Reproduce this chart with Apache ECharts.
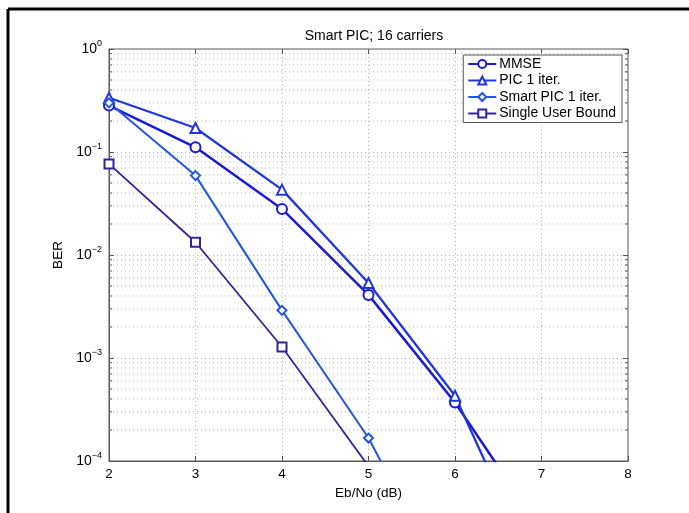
<!DOCTYPE html>
<html>
<head>
<meta charset="utf-8">
<script src="https://cdn.jsdelivr.net/npm/echarts@6/dist/echarts.min.js"></script>
<style>
  html, body { margin: 0; padding: 0; background: #fff; }
  #main { width: 689px; height: 513px; }
</style>
</head>
<body>
<div id="main"></div>
<script>
// Eb/No points (dB)
const ebno = [2, 3, 4, 5, 6, 7];

// BER values
const mmse = [0.282, 0.111, 0.028, 0.0041, 3.7e-4, 2.1e-5];
const pic1 = [0.336, 0.171, 0.0431, 0.00534, 4.3e-4, 6.2e-6];
const smartPic1 = [0.30, 0.059, 0.0029, 1.67e-4, 4.3e-6];
const singleUser = [0.0766, 0.0133, 0.00128, 8.9e-5];

const seriesNames = ['MMSE', 'PIC 1 iter.', 'Smart PIC 1 iter.', 'Single User Bound'];

// minor log grid values (2..9 per decade)
const minorVals = [];
for (let k = -4; k < 0; k++) {
  for (let m = 2; m <= 9; m++) minorVals.push(m * Math.pow(10, k));
}

const pairs = (ys) => ys.map((y, i) => [ebno[i], y]);

var chart = echarts.init(document.getElementById('main'));

const font = 'Liberation Sans, Arial, Helvetica, sans-serif';
const axisColor = '#555';
const gridColor = '#b4b4b4';

function mkLine(name, data, color, symbol, width, size) {
  return {
    name: name,
    type: 'line',
    data: pairs(data),
    symbol: symbol,
    symbolSize: size,
    clip: true,
    z: 5,
    lineStyle: { color: color, width: width },
    itemStyle: { color: color, borderColor: color, borderWidth: 1.8 }
  };
}

const option = {
  animation: false,
  backgroundColor: '#fff',
  textStyle: { fontFamily: font },
  title: {
    text: 'Smart PIC; 16 carriers',
    left: 369,
    textAlign: 'center',
    top: 24,
    textStyle: { fontSize: 14, fontWeight: 'normal', color: '#000', fontFamily: font }
  },
  grid: {
    left: 109, right: 61, top: 49, bottom: 52,
    show: true, borderColor: axisColor, borderWidth: 1, backgroundColor: '#fff'
  },
  legend: {
    right: 67,
    top: 55,
    orient: 'vertical',
    data: seriesNames,
    backgroundColor: '#fff',
    borderColor: axisColor,
    borderWidth: 1,
    borderRadius: 0,
    padding: [2, 6, 2, 4],
    itemGap: 2.5,
    itemWidth: 28,
    itemHeight: 10,
    textStyle: { fontSize: 14, color: '#000', fontFamily: font, padding: [0, 0, 0, -2] }
  },
  xAxis: [{
    type: 'value',
    min: 2, max: 8, interval: 1,
    name: 'Eb/No (dB)',
    nameLocation: 'middle',
    nameGap: 21,
    nameTextStyle: { fontSize: 13.5, color: '#000', fontFamily: font },
    axisLine: { show: true, lineStyle: { color: axisColor } },
    axisTick: { show: true, inside: true, length: 5, lineStyle: { color: axisColor } },
    axisLabel: { fontSize: 13.5, color: '#000', margin: 6, fontFamily: font },
    splitLine: { show: true, lineStyle: { color: gridColor, type: [1, 3] } }
  }, {
    type: 'value',
    position: 'top',
    min: 2, max: 8, interval: 1,
    axisLine: { show: false },
    axisTick: { show: true, inside: true, length: 5, lineStyle: { color: axisColor } },
    axisLabel: { show: false },
    splitLine: { show: false }
  }],
  yAxis: [{
    type: 'log',
    logBase: 10,
    min: 1e-4, max: 1,
    name: 'BER',
    nameLocation: 'middle',
    nameGap: 40,
    nameRotate: 90,
    nameTextStyle: { fontSize: 13.5, color: '#000', fontFamily: font },
    axisLine: { show: true, lineStyle: { color: axisColor } },
    axisTick: { show: true, inside: true, length: 5, lineStyle: { color: axisColor } },
    axisLabel: {
      margin: 7,
      formatter: function (v) {
        const e = Math.round(Math.log10(v));
        return '{b|10}{s|' + (e < 0 ? '\u2212' + (-e) : e) + '}';
      },
      rich: {
        b: { fontSize: 14, color: '#000', fontFamily: font },
        s: { fontSize: 9, color: '#000', fontFamily: font, verticalAlign: 'bottom', padding: [0, 0, 10, 0] }
      }
    },
    splitLine: { show: true, lineStyle: { color: gridColor, type: [1, 3] } }
  }, {
    type: 'log',
    logBase: 10,
    min: 1e-4, max: 1,
    position: 'right',
    axisLine: { show: false },
    axisTick: { show: true, inside: true, length: 5, lineStyle: { color: axisColor } },
    axisLabel: { show: false },
    splitLine: { show: false }
  }],
  graphic: [
    { type: 'line', shape: { x1: 8, y1: 9, x2: 689, y2: 9 }, style: { stroke: '#000', lineWidth: 3 } },
    { type: 'line', shape: { x1: 8, y1: 9, x2: 8, y2: 513 }, style: { stroke: '#000', lineWidth: 3 } }
  ],
  series: [
    {
      // minor log grid lines and minor ticks on both sides
      type: 'custom',
      silent: true,
      z: 1,
      data: minorVals.map(v => [2, v]),
      renderItem: function (params, api) {
        const y = api.coord([2, api.value(1)])[1];
        const xl = api.coord([2, 1])[0];
        const xr = api.coord([8, 1])[0];
        return {
          type: 'group',
          children: [
            { type: 'line', shape: { x1: xl, y1: y, x2: xr, y2: y },
              style: { stroke: gridColor, lineWidth: 1, lineDash: [1, 3] } },
            { type: 'line', shape: { x1: xl, y1: y, x2: xl + 3, y2: y },
              style: { stroke: axisColor, lineWidth: 1 } },
            { type: 'line', shape: { x1: xr - 3, y1: y, x2: xr, y2: y },
              style: { stroke: axisColor, lineWidth: 1 } }
          ]
        };
      }
    },
    mkLine(seriesNames[0], mmse, '#1a1ad0', 'emptyCircle', 2.5, 10),
    mkLine(seriesNames[1], pic1, '#2038da', 'emptyTriangle', 2.3, 10),
    mkLine(seriesNames[2], smartPic1, '#2255e2', 'emptyDiamond', 2, 9),
    mkLine(seriesNames[3], singleUser, '#35229c', 'emptyRect', 1.8, 9)
  ]
};

chart.setOption(option);
</script>
</body>
</html>
